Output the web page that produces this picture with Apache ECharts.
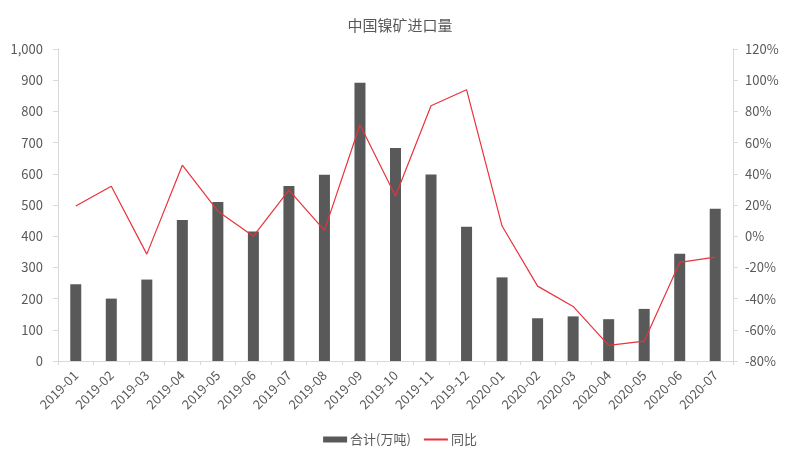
<!DOCTYPE html>
<html><head><meta charset="utf-8">
<script src="https://cdn.jsdelivr.net/npm/echarts@6/dist/echarts.min.js"></script>
<style>html,body{margin:0;padding:0;background:#fff}#c{width:800px;height:453px}</style>
</head><body><div id="c"></div>
<script>
const categories = ['2019-01','2019-02','2019-03','2019-04','2019-05','2019-06','2019-07','2019-08','2019-09','2019-10','2019-11','2019-12','2020-01','2020-02','2020-03','2020-04','2020-05','2020-06','2020-07'];
const totalValues = [246,200,261,452,510,415,561,597,892,683,598,430,268,137,143,134,167,344,488];
const yoyValues = [19.4,32,-11.5,45.5,16,0,29.6,3.7,71.4,25.8,83.6,93.9,6.5,-32,-45,-70,-67.3,-16.8,-13.4];
const leftTicks = [0,1000,100];
const rightTicks = [-80,120,20];
const titleText = '中国镍矿进口量';
const seriesNames = ['合计(万吨)','同比'];

const font = '"Noto Sans CJK SC", "Open Sans", sans-serif';
const txt = '#595959';
const chart = echarts.init(document.getElementById('c'));
chart.setOption({
  animation: false,
  title: {text: titleText, left: 'center', top: 13, textStyle: {fontFamily: font, fontSize: 15, fontWeight: 'normal', color: txt}},
  legend: {top: 428, left: 'center', itemGap: 12, itemWidth: 24, itemHeight: 6,
    textStyle: {fontFamily: font, fontSize: 13, color: txt, padding: [0,0,0,-2]},
    data: [{name: seriesNames[0], icon: 'rect'}, {name: seriesNames[1], itemStyle: {opacity: 0}}]},
  grid: {left: 58, right: 67, top: 49, bottom: 92, containLabel: false},
  xAxis: {type: 'category', data: categories, boundaryGap: true,
    axisLine: {lineStyle: {color: '#d9d9d9', width: 1}},
    axisTick: {show: true, length: 4, lineStyle: {color: '#d9d9d9'}},
    axisLabel: {rotate: 45, fontFamily: font, fontSize: 13, color: txt, margin: 12, interval: 0}},
  yAxis: [
    {type: 'value', min: leftTicks[0], max: leftTicks[1], interval: leftTicks[2],
      axisLine: {show: true, lineStyle: {color: '#d9d9d9'}},
      axisTick: {show: true, length: 5, lineStyle: {color: '#d9d9d9'}},
      splitLine: {show: false},
      axisLabel: {fontFamily: font, fontSize: 13, color: txt, margin: 15,
        formatter: v => v.toLocaleString('en-US')}},
    {type: 'value', min: rightTicks[0], max: rightTicks[1], interval: rightTicks[2],
      axisLine: {show: true, lineStyle: {color: '#d9d9d9'}},
      axisTick: {show: true, length: 5, lineStyle: {color: '#d9d9d9'}},
      splitLine: {show: false},
      axisLabel: {fontFamily: font, fontSize: 13, color: txt, margin: 12, formatter: v => v + '%'}}
  ],
  series: [
    {name: seriesNames[0], type: 'bar', data: totalValues, barWidth: 11, itemStyle: {color: '#595959'}},
    {name: seriesNames[1], type: 'line', yAxisIndex: 1, data: yoyValues, symbol: 'none',
      lineStyle: {color: '#e8333c', width: 1.2}, itemStyle: {color: '#e8333c'}}
  ]
});
</script></body></html>
